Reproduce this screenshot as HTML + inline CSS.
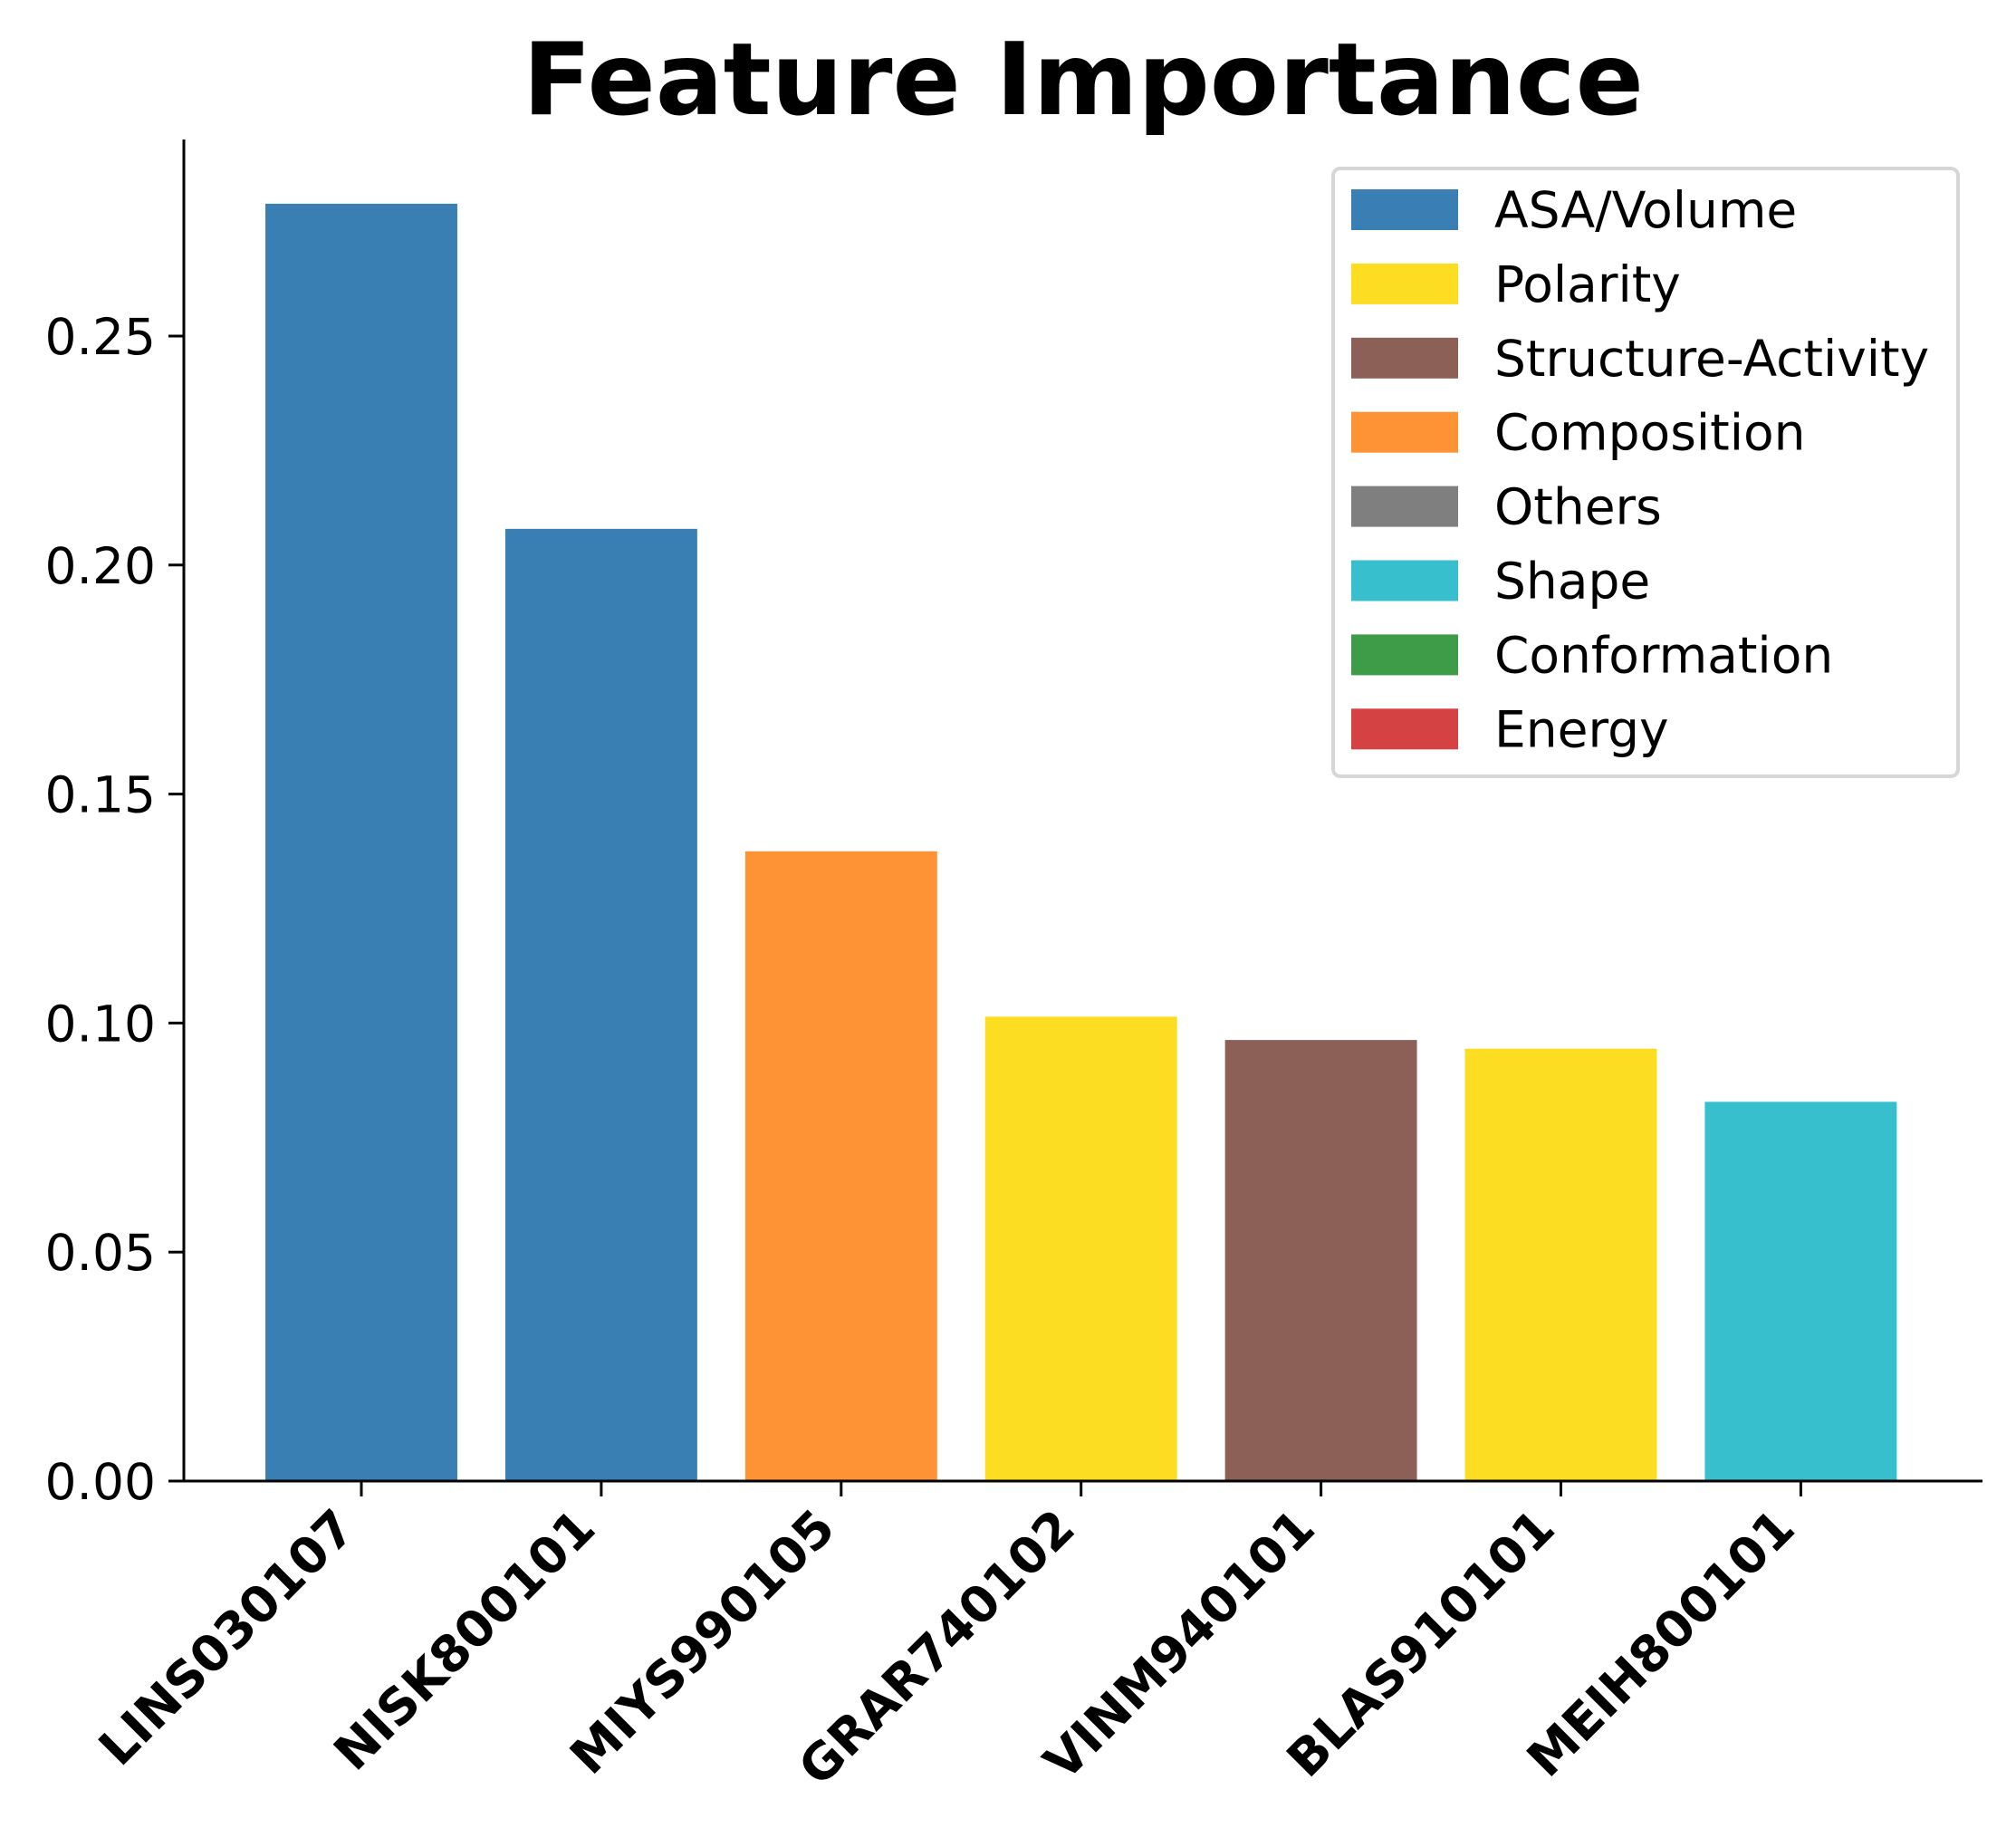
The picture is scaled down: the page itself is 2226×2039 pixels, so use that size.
<!DOCTYPE html>
<html><head><meta charset="utf-8"><style>
html,body{margin:0;padding:0;background:#fff;}
svg{display:block;font-family:"DejaVu Sans","Liberation Sans",sans-serif;}
</style></head><body>
<svg id="chart" width="2226" height="2039" viewBox="0 0 2226 2039" xmlns="http://www.w3.org/2000/svg">
<rect width="2226" height="2039" fill="#fff"/>
<text x="1196" y="126" font-size="111" font-weight="bold" text-anchor="middle">Feature Importance</text>
<g id="bars"></g>
<g id="yaxis"></g>
<g id="xaxis"></g>
<g id="legend"></g>
</svg>
<script>
const categories = ["LINS030107","NISK800101","MIYS990105","GRAR740102","VINM940101","BLAS910101","MEIH800101"];
const values = [0.2789,0.2079,0.1375,0.1014,0.0963,0.0944,0.0828];
const groups = ["ASA/Volume","ASA/Volume","Composition","Polarity","Structure-Activity","Polarity","Shape"];
const yTicks = [0,0.05,0.10,0.15,0.20,0.25];
const yTickLabels = ["0.00","0.05","0.10","0.15","0.20","0.25"];
const legendNames = ["ASA/Volume","Polarity","Structure-Activity","Composition","Others","Shape","Conformation","Energy"];
const legendColors = ["#3a7fb3","#fcdd22","#8c5f57","#fe9335","#7f7f7f","#38bfcd","#3e9c48","#d44243"];

const NS="http://www.w3.org/2000/svg";
const axL=203, axR=2189, axTop=154, axBot=1635;
const pxPer05=252.8;
function yScale(v){return axBot - v/0.05*pxPer05;}
const step=264.9, firstX=399;
function xScale(i){return firstX + i*step;}
const barW=step*0.8;
function mk(tag,attrs,parent){const e=document.createElementNS(NS,tag);for(const k in attrs)e.setAttribute(k,attrs[k]);parent.appendChild(e);return e;}
function colorOf(g){return legendColors[legendNames.indexOf(g)];}

const gb=document.getElementById('bars');
categories.forEach((c,i)=>{
  const y=yScale(values[i]);
  const r=mk('rect',{x:xScale(i)-barW/2,y:y,width:barW,height:axBot-y,fill:colorOf(groups[i])},gb);
  
  
});

const gy=document.getElementById('yaxis');
const yl=mk('line',{x1:axL,y1:axTop,x2:axL,y2:axBot+1.5,stroke:'#000','stroke-width':3},gy);


yTicks.forEach((t,i)=>{
  const y=yScale(t);
  const tk=mk('line',{x1:axL-17,y1:y,x2:axL,y2:y,stroke:'#000','stroke-width':3},gy);
  
  
  const tx=mk('text',{x:axL-31,y:y+20,'font-size':55,'text-anchor':'end'},gy);
  tx.textContent=yTickLabels[i];
  
  
});

const gx=document.getElementById('xaxis');
const xl=mk('line',{x1:axL-1.5,y1:axBot,x2:axR,y2:axBot,stroke:'#000','stroke-width':3},gx);


categories.forEach((c,i)=>{
  const x=xScale(i);
  const tk=mk('line',{x1:x,y1:axBot,x2:x,y2:axBot+17,stroke:'#000','stroke-width':3},gx);
  
  
  const px=x-4, py=1690;
  const tx=mk('text',{x:px,y:py,'font-size':55,'font-weight':'bold','text-anchor':'end',transform:`rotate(-45 ${px} ${py})`},gx);
  tx.textContent=c;
  
  
});

const gl=document.getElementById('legend');
const lb=mk('rect',{x:1481,y:186,width:690,height:671,rx:8,fill:'#fff',stroke:'#d6d6d6','stroke-width':4},gl);


lb.setAttribute('x',1472);
legendNames.forEach((n,i)=>{
  const cy=231+i*81.9;
  const sw=mk('rect',{x:1492,y:cy-22,width:118,height:45,fill:legendColors[i]},gl);
  
  
  const tx=mk('text',{x:1650,y:cy+20,'font-size':55},gl);
  tx.textContent=n;
  
  
});
</script>
</body></html>
